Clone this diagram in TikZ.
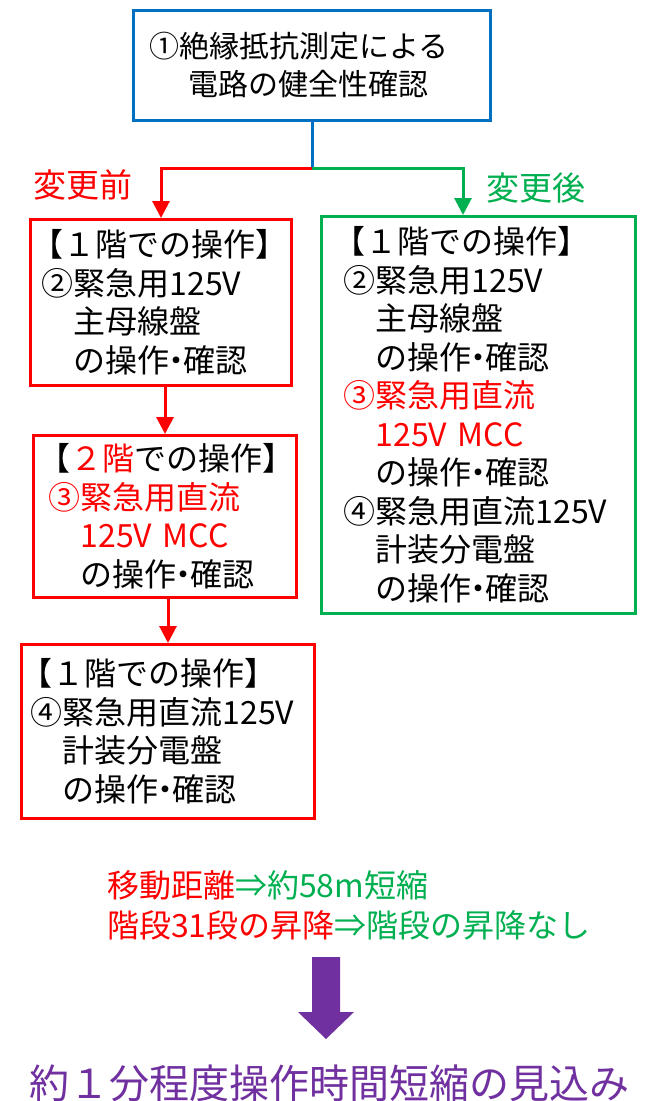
\documentclass[tikz,border=0pt]{standalone}
\usepackage{fontspec}
\setmainfont{Noto Sans CJK JP}
\usetikzlibrary{arrows.meta}
\definecolor{cred}{RGB}{255,0,0}
\definecolor{cgreen}{RGB}{0,176,80}
\definecolor{cblue}{RGB}{0,112,192}
\definecolor{cpurple}{RGB}{112,48,160}
\newcommand{\mylb}{\hspace*{-0.3em}【}
\newcommand{\mydot}{\makebox[0.45em][c]{・}}
\begin{document}
\begin{tikzpicture}[x=1pt,y=-1pt,
  box/.style={draw, line width=3pt, anchor=north west, inner sep=0pt, align=left,
    font=\fontsize{32}{38.5}\selectfont},
  conn/.style={line width=3pt},
  tipend/.style={-{Triangle[width=17pt,length=17pt]}}]
\useasboundingbox (0,0) rectangle (652,1101);
\fill[white] (0,0) rectangle (652,1101);

% top box
\node[box, draw=cblue, align=center, minimum width=357pt, minimum height=110pt,
  font=\fontsize{30}{38}\selectfont] (top) at (132,9)
  {①絶縁抵抗測定による\hspace*{26pt}\\電路の健全性確認\hspace*{8pt}};

% before boxes
\node[box, draw=cred, minimum width=261pt, minimum height=166pt, text width=239pt] (b1) at (29,218)
  {\mylb１階での操作】\\②緊急用125V\\\hspace*{1em}主母線盤\\\hspace*{1em}の操作\mydot 確認};
\node[box, draw=cred, minimum width=263pt, minimum height=162pt, text width=233pt] (b2) at (32,434)
  {{\color{black}\mylb}{\color{cred}２階}での操作】\\{\color{cred}③緊急用直流}\\\hspace*{1em}{\color{cred}125V MCC}\\\hspace*{1em}の操作\mydot 確認};
\node[box, draw=cred, minimum width=293pt, minimum height=174pt, text width=275pt] (b3) at (20,643)
  {\mylb１階での操作】\\④緊急用直流125V\\\hspace*{1em}計装分電盤\\\hspace*{1em}の操作\mydot 確認};

% after box
\node[box, draw=cgreen, minimum width=314pt, minimum height=397pt, text width=270pt] (g1) at (320,215)
  {\mylb１階での操作】\\②緊急用125V\\\hspace*{1em}主母線盤\\\hspace*{1em}の操作\mydot 確認\\
   {\color{cred}③緊急用直流}\\\hspace*{1em}{\color{cred}125V MCC}\\\hspace*{1em}の操作\mydot 確認\\
   ④緊急用直流125V\\\hspace*{1em}計装分電盤\\\hspace*{1em}の操作\mydot 確認};

% labels
\node[text=cred, font=\fontsize{33}{33}\selectfont] (before) at (83,185) {変更前};
\node[text=cgreen, font=\fontsize{33}{33}\selectfont] (after) at (536,188) {変更後};

% connectors
\coordinate (split) at (top.south |- 0,168);
\coordinate (gin) at ([xshift=143pt]g1.north west);
\draw[conn, cblue] (top.south) -- (split);
\draw[conn, cred, tipend] (split) -| (b1.north);
\draw[conn, cgreen, tipend] (split) -| (gin);
\draw[conn, cred, tipend] (b1.south -| b2.north) -- (b2.north);
\draw[conn, cred, tipend] (b2.south -| b3.north) -- (b3.north);

% summary
\node[anchor=west, align=left, inner sep=0pt, font=\fontsize{32}{40}\selectfont] (diff) at (107,905)
  {{\color{cred}移動距離}{\color{cgreen}⇒約58m短縮}\\{\color{cred}階段31段の昇降}{\color{cgreen}⇒階段の昇降なし}};

% block arrow
\fill[cpurple] (312,957) -- (340,957) -- (340,1012) -- (354,1012) -- (326,1039) -- (298,1012) -- (312,1012) -- cycle;

\node[text=cpurple, inner sep=0pt, font=\fontsize{40}{40}\selectfont] (result) at (330,1083) {約１分程度操作時間短縮の見込み};
\end{tikzpicture}
\end{document}
